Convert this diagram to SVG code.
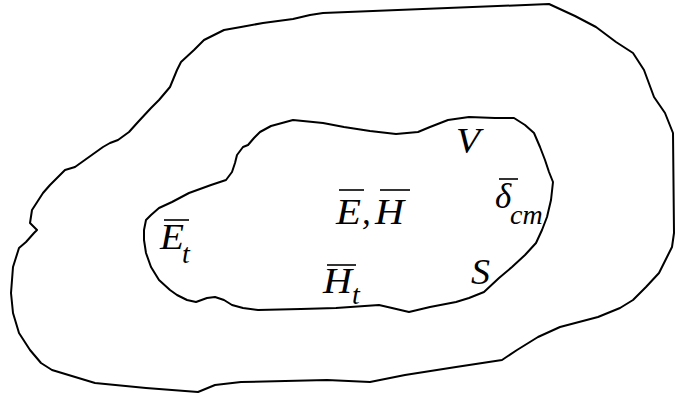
<svg xmlns="http://www.w3.org/2000/svg" width="675" height="397" viewBox="0 0 675 397">
<style>
.c{fill:none;stroke:#000;stroke-width:2;stroke-linejoin:round}
.t{font-family:"Liberation Serif","Times New Roman",serif;font-style:italic;font-size:35px;fill:#000}
.s{font-size:28px}
.b{stroke:#000;stroke-width:1.6}
</style>
<rect width="675" height="397" fill="#fff"/>
<g id="outer">
<path class="c" d="M549,4 L575,16 L596,27 L616,42 L633,53 L644,70 L654,97 L665,113 L673,133 L674,233 L672,247 L667,257 L659,273 L646,287 L633,300 L620,308 L598,317 L560,327 L538,337 L517,350 L502,360 L456,367 L405,375 L370,382 L327,380 L241,382 L215,385 L198,392 L146,388 L95,383 L52,370 L41,363 L30,350 L19,333 L13,313 L11,293 L13,267 L19,248 L26,242 L34,233 L37,230 L30,223 L32,210 L43,193 L50,185 L65,170 L75,167 L82,162 L103,147 L110,143 L118,140 L129,132 L138,122 L151,108 L159,100 L170,87 L177,70 L181,62 L194,50 L204,40 L224,30 L241,27 L263,23 L293,19 L310,15 L323,13 Z"/>
</g>
<g id="inner">
<path class="c" d="M293,120 L271,126 L260,132 L254,138 L248,145 L243,147 L237,155 L235,163 L232,172 L226,180 L211,185 L189,193 L172,202 L159,208 L151,215 L146,220 L144,230 L144,240 L146,253 L151,267 L159,280 L170,290 L177,295 L187,300 L196,302 L207,298 L215,297 L224,300 L232,305 L243,308 L258,310 L301,309 L336,308 L379,305 L392,308 L409,312 L430,307 L456,302 L469,298 L484,292 L499,278 L512,267 L525,255 L536,243 L542,230 L547,217 L551,200 L553,182 L549,172 L545,160 L540,147 L534,133 L525,125 L514,118 L495,118 L469,117 L448,120 L430,127 L418,132 L396,134 L370,131 L344,127 L323,123 Z"/>
</g>
<g id="labels">
<text class="t" x="456" y="153" textLength="24" lengthAdjust="spacingAndGlyphs">V</text>
<text class="t" x="471" y="284" textLength="19" lengthAdjust="spacingAndGlyphs">S</text>
<g id="EH">
<text class="t" x="336" y="224" textLength="25" lengthAdjust="spacingAndGlyphs">E</text>
<text class="t" x="362" y="224">,</text>
<text class="t" x="375" y="224" textLength="29" lengthAdjust="spacingAndGlyphs">H</text>
<line class="b" x1="339" y1="190" x2="364" y2="190"/>
<line class="b" x1="380" y1="190" x2="410" y2="190"/>
</g>
<g id="Et">
<text class="t" x="160" y="249" textLength="24" lengthAdjust="spacingAndGlyphs">E</text>
<text class="t s" x="182" y="263">t</text>
<line class="b" x1="164" y1="220" x2="189" y2="220"/>
</g>
<g id="Ht">
<text class="t" x="323" y="293" textLength="29" lengthAdjust="spacingAndGlyphs">H</text>
<text class="t s" x="352" y="304">t</text>
<line class="b" x1="327" y1="265" x2="356" y2="265"/>
</g>
<g id="dcm">
<text class="t" x="495" y="208">δ</text>
<text class="t s" x="510" y="224">cm</text>
<line class="b" x1="499" y1="179" x2="518" y2="179"/>
</g>
</g>
</svg>
